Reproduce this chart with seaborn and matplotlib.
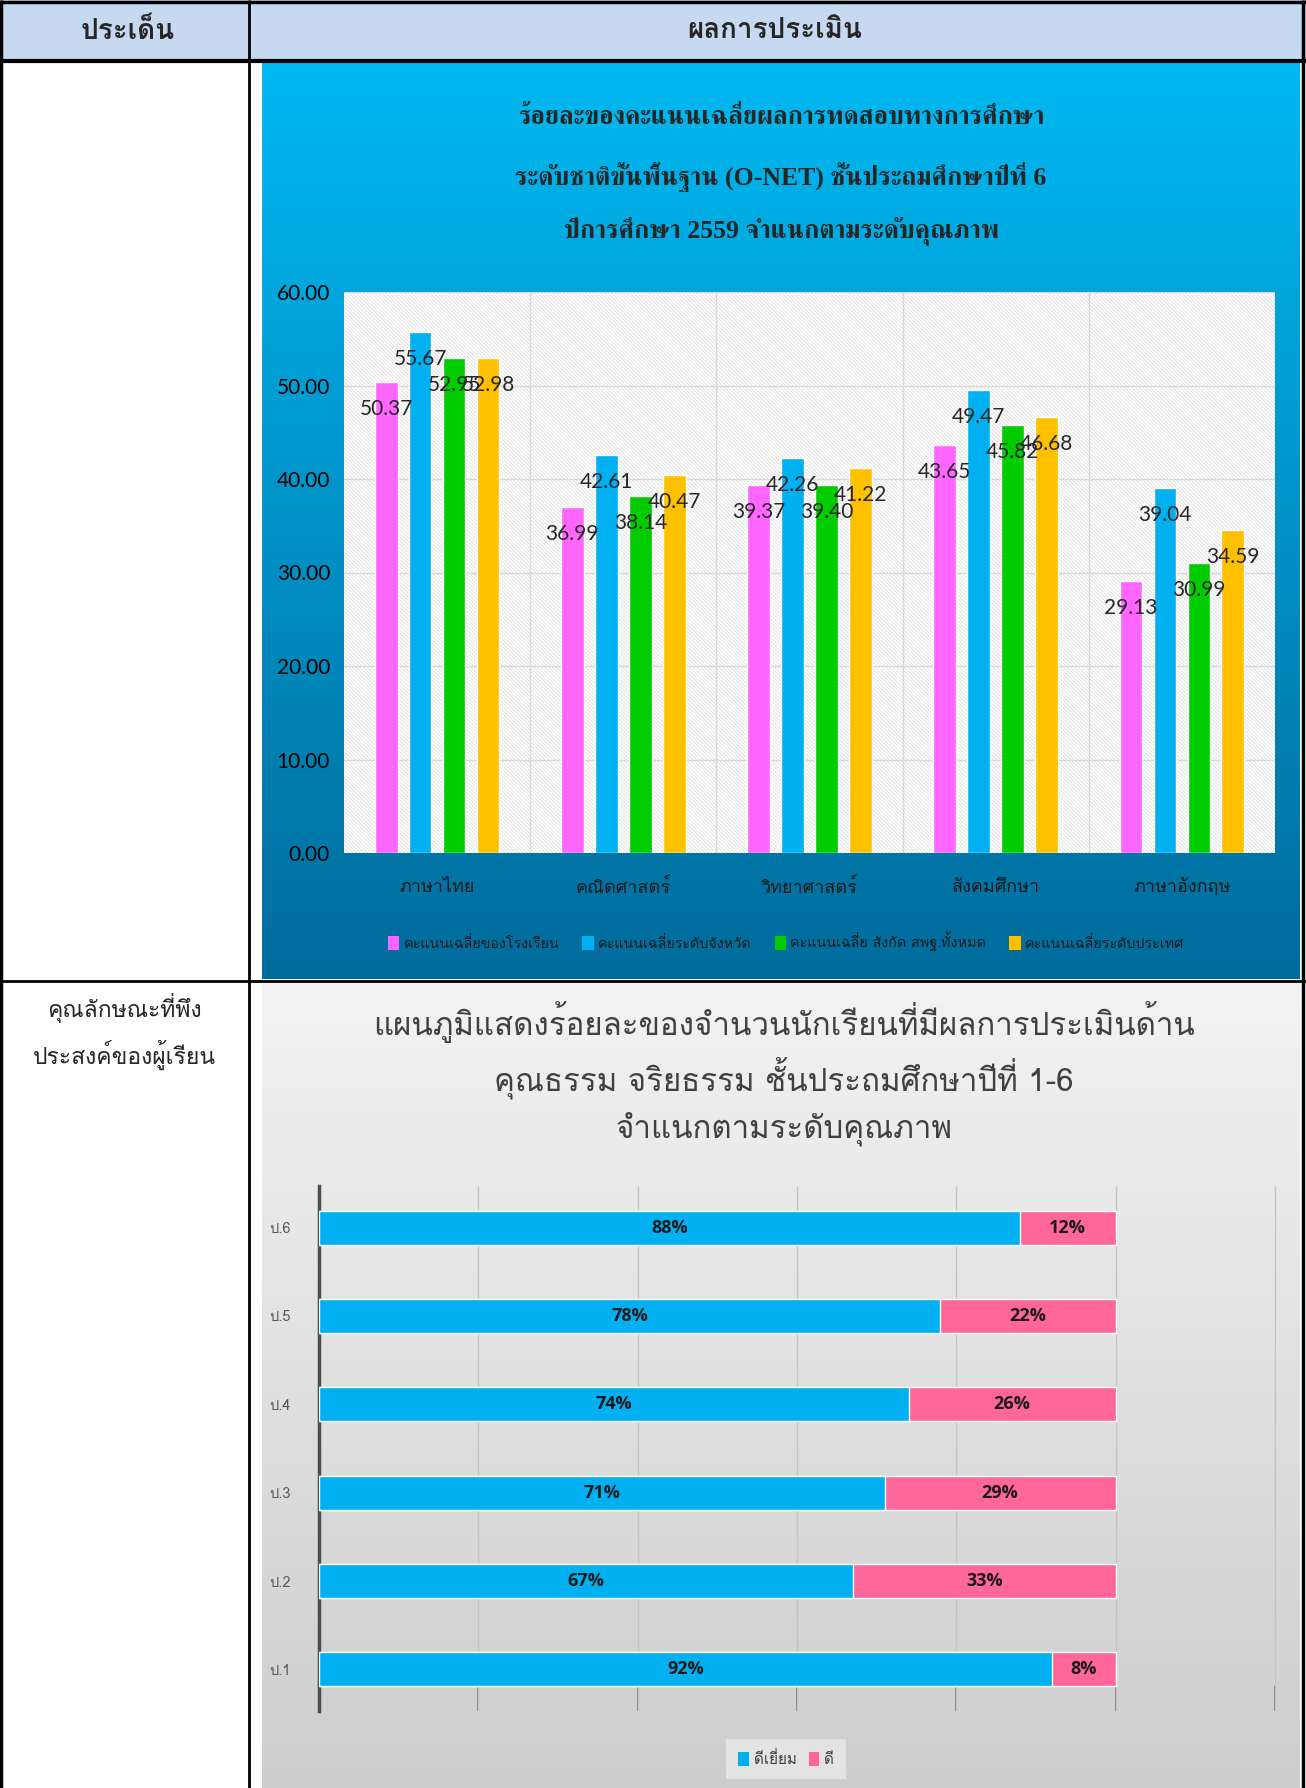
import numpy as np
import pandas as pd
import matplotlib
matplotlib.use('Agg')
import matplotlib.pyplot as plt
import seaborn as sns
from matplotlib import font_manager
from matplotlib.ft2font import FT2Font
from matplotlib.patches import Rectangle, Patch

# --- data: O-NET chart ---
subjects = ['ภาษาไทย', 'คณิตศาสตร์', 'วิทยาศาสตร์', 'สังคมศึกษา', 'ภาษาอังกฤษ']
series_names = ['คะแนนเฉลี่ยของโรงเรียน', 'คะแนนเฉลี่ยระดับจังหวัด',
                'คะแนนเฉลี่ย สังกัด สพฐ.ทั้งหมด', 'คะแนนเฉลี่ยระดับประเทศ']
school = [50.37, 36.99, 39.37, 43.65, 29.13]
province = [55.67, 42.61, 42.26, 49.47, 39.04]
obec = [52.95, 38.14, 39.40, 45.82, 30.99]
national = [52.98, 40.47, 41.22, 46.68, 34.59]
series_colors = ['#FF66FF', '#00B0F0', '#00CC00', '#FFC000']

# --- data: moral / ethics chart ---
grades = ['ป.6', 'ป.5', 'ป.4', 'ป.3', 'ป.2', 'ป.1']
excellent = [88, 78, 74, 71, 67, 92]
good = [12, 22, 26, 29, 33, 8]
level_names = ['ดีเยี่ยม', 'ดี']
level_colors = ['#00B0F0', '#FF6699']

title1 = ['ร้อยละของคะแนนเฉลี่ยผลการทดสอบทางการศึกษา',
          'ระดับชาติขั้นพื้นฐาน (O-NET) ชั้นประถมศึกษาปีที่ 6',
          'ปีการศึกษา 2559 จำแนกตามระดับคุณภาพ']
title2 = ['แผนภูมิแสดงร้อยละของจำนวนนักเรียนที่มีผลการประเมินด้าน',
          'คุณธรรม จริยธรรม ชั้นประถมศึกษาปีที่ 1-6',
          'จำแนกตามระดับคุณภาพ']


def thai_fonts():
    """All installed families that have Thai glyphs."""
    names = []
    for f in font_manager.fontManager.ttflist:
        try:
            cmap = FT2Font(f.fname).get_charmap()
        except Exception:
            continue
        if 0x0E01 in cmap and 0x0E40 in cmap and f.name not in names:
            names.append(f.name)
    return names


sns.set_style('white')
thai_list = thai_fonts()
thai = thai_list[0] if thai_list else None
thai_serif = next((n for n in thai_list if 'Serif' in n), thai)
fam = ([thai] if thai else []) + ['DejaVu Sans']
serif_fam = ['Liberation Serif'] + ([thai_serif] if thai_serif else []) + ['DejaVu Serif']
plt.rcParams['font.family'] = fam
plt.rcParams['hatch.linewidth'] = 0.5

all_names = {f.name for f in font_manager.fontManager.ttflist}
if 'Liberation Sans Narrow' in all_names:
    num_fam, num_size = ['Liberation Sans Narrow'] + fam, 16
else:
    num_fam, num_size = ['Lato'] + fam, 15

W, H = 1306, 1788
fig = plt.figure(figsize=(W / 100, H / 100), dpi=100)


def px_axes(x0, y0, x1, y1, **kw):
    return fig.add_axes([x0 / W, 1 - y1 / H, (x1 - x0) / W, (y1 - y0) / H], **kw)


# background / table layer
bg = px_axes(0, 0, W, H, zorder=0)
bg.set_xlim(0, W)
bg.set_ylim(H, 0)
bg.axis('off')

bg.add_patch(Rectangle((0, 0), W, 60, facecolor='#C6D9F1', edgecolor='none'))


def gradient(top, bottom, n=256):
    t = np.linspace(0, 1, n)[:, None, None]
    a = np.array(matplotlib.colors.to_rgb(top))[None, None, :]
    b = np.array(matplotlib.colors.to_rgb(bottom))[None, None, :]
    return a + (b - a) * t


bg.imshow(gradient('#00B9F2', '#006C9C'), extent=[262, 1300, 979, 63],
          origin='upper', aspect='auto', zorder=1)
bg.imshow(gradient('#F3F3F3', '#CDCDCD'), extent=[262, 1300, H, 983],
          origin='upper', aspect='auto', zorder=1)
bg.set_xlim(0, W)
bg.set_ylim(H, 0)

lk = dict(color='black', zorder=5, solid_capstyle='butt')
bg.plot([1, 1], [0, H], lw=2.5, **lk)
bg.plot([1303, 1303], [0, H], lw=2.5, **lk)
bg.plot([0, W], [1.5, 1.5], lw=2.5, **lk)
bg.plot([0, W], [61, 61], lw=3, **lk)
bg.plot([249, 249], [0, H], lw=2, **lk)
bg.plot([0, W], [981, 981], lw=2, **lk)

bg.text(128, 31, 'ประเด็น', fontsize=20, fontweight='bold', ha='center', va='center', zorder=6)
bg.text(775, 31, 'ผลการประเมิน', fontsize=20, fontweight='bold', ha='center', va='center', zorder=6)
bg.text(124, 1008, 'คุณลักษณะที่พึง', fontsize=16.5, ha='center', va='center', zorder=6)
bg.text(124, 1055, 'ประสงค์ของผู้เรียน', fontsize=16.5, ha='center', va='center', zorder=6)

for y, line in zip([117, 177, 232], title1):
    bg.text(781, y, line, fontsize=18.5, fontweight='bold', ha='center', va='center',
            family=serif_fam, zorder=6)
for y, line in zip([1022, 1078, 1129], title2):
    bg.text(784, y, line, fontsize=22.5, ha='center', va='center', color='#404040', zorder=6)

# --- chart 1: grouped bars ---
df1 = pd.DataFrame({
    'subject': subjects * 4,
    'series': sum([[s] * 5 for s in series_names], []),
    'value': school + province + obec + national,
})

ax1 = px_axes(344, 292, 1275, 853, zorder=2)
ax1.add_patch(Rectangle((0, 0), 1, 1, transform=ax1.transAxes, facecolor='white',
                        edgecolor='#D8D8D8', hatch='\\' * 9, lw=0, zorder=0))
sns.barplot(data=df1, x='subject', y='value', hue='series', palette=series_colors,
            width=0.73, gap=0.33, saturation=1, legend=False, ax=ax1, zorder=3)
ax1.set_ylim(0, 60)
ax1.set_xlim(-0.5, 4.5)
ax1.set_yticks(np.arange(0, 61, 10))
ax1.set_yticklabels([f'{v:.2f}' for v in np.arange(0, 61, 10)], family=num_fam, fontsize=15)
for y in np.arange(10, 61, 10):
    ax1.axhline(y, color='#D9D9D9', lw=1, zorder=1)
for x in [0.5, 1.5, 2.5, 3.5]:
    ax1.axvline(x, color='#D9D9D9', lw=1, zorder=1)
for s in ax1.spines.values():
    s.set_visible(False)
ax1.set_xlabel('')
ax1.set_ylabel('')
ax1.tick_params(axis='x', length=0, pad=18, labelsize=13, labelcolor='#1A1A1A')
ax1.tick_params(axis='y', length=0, pad=10, labelcolor='black')

for cont in ax1.containers:
    for bar in cont:
        h = bar.get_height()
        ax1.annotate(f'{h:.2f}', (bar.get_x() + bar.get_width() / 2, h),
                     xytext=(0, -27), textcoords='offset pixels', ha='center', va='center',
                     fontsize=num_size, family=num_fam, color='#262626', zorder=5)

handles1 = [Patch(facecolor=c, edgecolor='none') for c in series_colors]
fig.legend(handles1, series_names, loc='center', bbox_to_anchor=(786 / W, 1 - 942 / H),
           ncol=4, frameon=False, fontsize=10.3, handlelength=0.8, handleheight=1.1,
           handletextpad=0.3, columnspacing=1.6, labelcolor='#1A1A1A')

# --- chart 2: stacked horizontal bars ---
totals = [e + g for e, g in zip(excellent, good)]
df2 = pd.DataFrame({'grade': grades, 'excellent': excellent, 'good': good, 'total': totals})

ax2 = px_axes(319, 1186, 1275, 1711, zorder=2)
ax2.patch.set_alpha(0)
sns.barplot(data=df2, y='grade', x='total', color=level_colors[1], saturation=1,
            width=0.385, orient='h', ax=ax2, zorder=3)
sns.barplot(data=df2, y='grade', x='excellent', color=level_colors[0], saturation=1,
            width=0.385, orient='h', ax=ax2, zorder=4)
ax2.set_xlim(0, 120)
ax2.set_ylim(5.47, -0.47)
ax2.set_xticks(np.arange(0, 121, 20))
ax2.set_xticklabels([])
for x in np.arange(20, 121, 20):
    ax2.axvline(x, color='#C4C4C4', lw=1, zorder=1, clip_on=False)
for k in ['top', 'right', 'bottom']:
    ax2.spines[k].set_visible(False)
ax2.spines['left'].set_color('#4D4D4D')
ax2.spines['left'].set_linewidth(2.5)
ax2.set_xlabel('')
ax2.set_ylabel('')
ax2.tick_params(axis='x', direction='in', length=18, width=1.2, color='#707070', bottom=True)
ax2.tick_params(axis='y', length=0, pad=20, labelsize=10.5, labelcolor='#595959')

for i, (e, g) in enumerate(zip(excellent, good)):
    ax2.text(e / 2, i, f'{e}%', ha='center', va='center', fontsize=13, fontweight='bold',
             family=['Open Sans'] + fam, color='#1A1A1A', zorder=6)
    ax2.text(e + g / 2, i, f'{g}%', ha='center', va='center', fontsize=13, fontweight='bold',
             family=['Open Sans'] + fam, color='#1A1A1A', zorder=6)

handles2 = [Patch(facecolor=c, edgecolor='none') for c in level_colors]
fig.legend(handles2, level_names, loc='center', bbox_to_anchor=(786 / W, 1 - 1759 / H),
           ncol=2, frameon=True, facecolor='#E3E3E3', edgecolor='none', framealpha=1,
           fontsize=11, handlelength=0.7, handleheight=1.0, handletextpad=0.3,
           columnspacing=0.8, labelcolor='#404040', fancybox=False, borderpad=0.8)

fig.savefig('out.png', dpi=100)
